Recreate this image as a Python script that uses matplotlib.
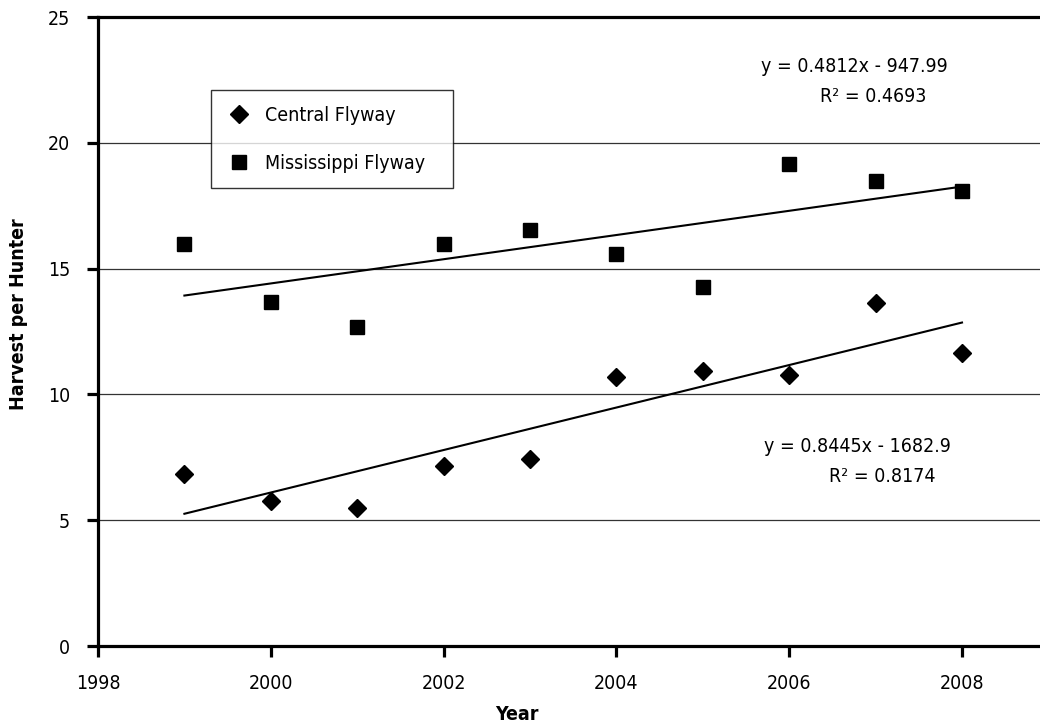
import matplotlib
matplotlib.use("Agg")
import matplotlib.pyplot as plt
import numpy as np

plt.rcParams['font.family'] = ['DejaVu Sans']
plt.rcParams['font.stretch'] = 'condensed'

years = [1999, 2000, 2001, 2002, 2003, 2004, 2005, 2006, 2007, 2008]
central = [6.84, 5.77, 5.47, 7.17, 7.43, 10.70, 10.92, 10.78, 13.64, 11.63]
mississippi = [15.97, 13.66, 12.69, 15.97, 16.53, 15.58, 14.26, 19.15, 18.50, 18.10]

# linear trends (slope, intercept) and their R^2
central_fit = (0.8445, -1682.9)
central_r2 = 0.8174
mississippi_fit = (0.4812, -947.99)
mississippi_r2 = 0.4693

x_ticks = [1998, 2000, 2002, 2004, 2006, 2008]
y_ticks = [0, 5, 10, 15, 20, 25]

W, H = 1040, 727
FS = 14


def fig_xy(px, py):
    # pixel position (from top left) to figure fraction
    return px / W, 1 - py / H


def main():
    fig = plt.figure(figsize=(W / 100, H / 100), dpi=100)
    ax = fig.add_axes([98 / W, 81 / H, 942 / W, 629 / H])

    ax.set_xlim(1998, 1998 + 942 / 86.4)
    ax.set_ylim(0, 25)
    ax.set_xticks(x_ticks)
    ax.set_yticks(y_ticks)

    for y in y_ticks[1:-1]:
        ax.axhline(y, color='#333333', lw=0.9, zorder=0)

    ax.plot(years, central, linestyle='none', marker='D', ms=9.2,
            color='black', label='Central Flyway', zorder=3)
    ax.plot(years, mississippi, linestyle='none', marker='s', ms=9.6,
            color='black', label='Mississippi Flyway', zorder=3)

    xs = np.array([years[0], years[-1]])
    ax.plot(xs, np.polyval(central_fit, xs), color='black', lw=1.5, zorder=2)
    ax.plot(xs, np.polyval(mississippi_fit, xs), color='black', lw=1.5, zorder=2)

    for side in ['left', 'bottom', 'top']:
        ax.spines[side].set_linewidth(2.3)
    ax.spines['right'].set_visible(False)
    ax.tick_params(axis='both', direction='out', length=8, width=2.3,
                   labelsize=FS, pad=12)

    fig.text(*fig_xy(19, 314), 'Harvest per Hunter', fontsize=FS, fontweight='bold',
             rotation=90, ha='center', va='center')
    fig.text(*fig_xy(517, 715), 'Year', fontsize=FS, fontweight='bold',
             ha='center', va='center')

    fig.text(*fig_xy(854, 67), 'y = %.4fx - %.2f' % (mississippi_fit[0], -mississippi_fit[1]),
             fontsize=FS, ha='center', va='center')
    fig.text(*fig_xy(873, 97), 'R\u00b2 = %.4f' % mississippi_r2,
             fontsize=FS, ha='center', va='center')
    fig.text(*fig_xy(857, 447), 'y = %.4fx - %.1f' % (central_fit[0], -central_fit[1]),
             fontsize=FS, ha='center', va='center')
    fig.text(*fig_xy(882, 477), 'R\u00b2 = %.4f' % central_r2,
             fontsize=FS, ha='center', va='center')

    x0, y0 = fig_xy(211, 191)
    leg = ax.legend(loc='upper left', bbox_to_anchor=(x0, y0, 242 / W, 101 / H),
                    bbox_transform=fig.transFigure, borderaxespad=0, mode='expand',
                    fontsize=FS, frameon=True, fancybox=False, numpoints=1,
                    handlelength=1.3, handletextpad=0.7, borderpad=0.8,
                    labelspacing=1.5)
    leg.get_frame().set_edgecolor('black')
    leg.get_frame().set_linewidth(1.0)

    fig.savefig('out.png', dpi=100)


if __name__ == '__main__':
    main()
